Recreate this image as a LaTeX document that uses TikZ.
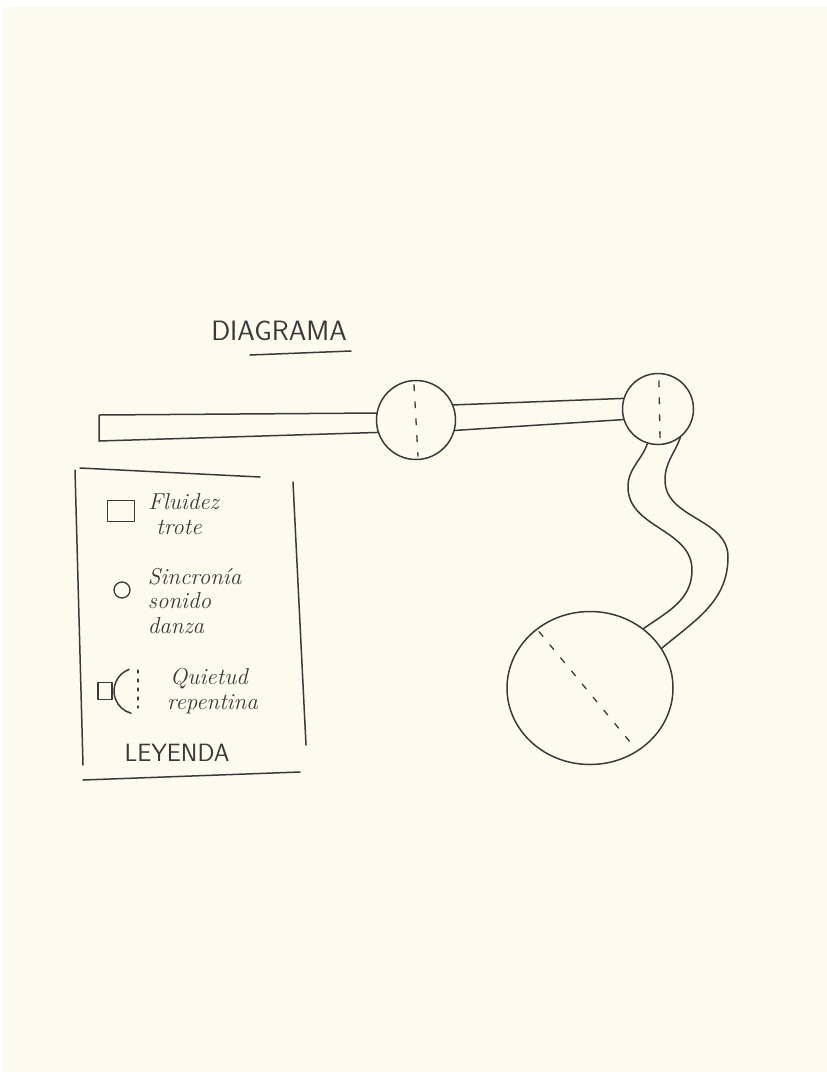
\documentclass[tikz,border=0pt]{standalone}
\usetikzlibrary{positioning, shapes.geometric}
\definecolor{paper}{HTML}{FDFAEE}
\definecolor{ink}{HTML}{3A3A3A}

\begin{document}
\begin{tikzpicture}[
x=1pt, y=1pt,
node distance=12pt and 14pt,
stroke/.style={draw=ink, line width=1.5pt, line cap=round, line join=round},
ball/.style={stroke, circle, inner sep=0pt},
cut/.style={draw=ink, line width=1.3pt, line cap=round, dash pattern=on 6pt off 11pt},
handtext/.style={text=ink, inner sep=0pt, align=left, font=\fontsize{23}{24.5}\selectfont\itshape},
capstext/.style={text=ink, inner sep=0pt, font=\fontsize{28}{30}\selectfont\sffamily}
]

% paper
\fill[white] (0,0) rectangle (827,-1072);
\fill[paper] (3,-7) rectangle (827,-1072);
\useasboundingbox (0,0) rectangle (827,-1072);

% title
\node[capstext] (title) at (279,-331) {DIAGRAMA};
\draw[stroke] (250,-355) -- (351,-351);

% the three moments
\node[ball, minimum size=79pt] (sync1) at (416,-420) {};
\node[ball, minimum size=71pt] (sync2) at (658,-409) {};
\node[stroke, ellipse, minimum width=166pt, minimum height=153pt, inner sep=0pt] (stop) at (590,-688) {};

\draw[cut] ([xshift=-2pt, yshift=-5pt]sync1.north) -- ([xshift=2pt, yshift=4pt]sync1.south);
\draw[cut] ([xshift=1pt, yshift=-8pt]sync2.north) -- ([xshift=2pt, yshift=5pt]sync2.south);
\draw[cut, shorten <=4pt, shorten >=6pt] (stop.132) -- (stop.307);

% bars
\coordinate (tail top) at (99,-415);
\coordinate (tail bot) at (99,-441);
\draw[stroke] (sync1.170) -- (tail top) -- (tail bot) -- (sync1.198);
\draw[stroke] (sync1.22) -- (sync2.163);
\draw[stroke] (sync1.345) -- (sync2.197);

% winding bar down to the big one
\draw[stroke] (sync2.253) to[out=250, in=90] (628,-487)
  to[out=270, in=90] (692,-570) to[out=270, in=35] (stop.48);
\draw[stroke] (sync2.308) to[out=250, in=90] (665,-480)
  to[out=270, in=90] (728,-557) to[out=270, in=40] (stop.29);

% legend frame
\draw[stroke] (80,-468) -- (260,-477);
\draw[stroke] (293,-482) -- (306,-745);
\draw[stroke] (83,-780) -- (300,-772);
\draw[stroke] (75,-470) -- (83,-765);

% legend entries
\node[stroke, rectangle, minimum width=27pt, minimum height=21pt, inner sep=0pt] (trot) at (121,-511) {};
\node[handtext, right=13pt of trot, yshift=-3pt] (trottext) {Fluidez\\\hspace*{8pt}trote};

\node[ball, minimum size=16pt, line width=1.3pt] (sync) at (122,-590) {};
\node[handtext, right=17pt of sync, yshift=-11pt] (synctext) {Sincronía\\sonido\\danza};

\node[stroke, rectangle, minimum width=14pt, minimum height=17pt, inner sep=0pt] (halt) at (105,-691) {};
\coordinate (haltc) at (137,-691);
\draw[stroke] (haltc) ++(110:23pt) arc[start angle=110, end angle=255, radius=23pt];
\draw[cut, dash pattern=on 3pt off 6pt] (138,-670) -- (138,-708);
\node[handtext, right=30pt of haltc] (halttext) {\hspace*{3pt}Quietud\\repentina};

\node[capstext, font=\fontsize{25}{28}\selectfont\sffamily] (legend) at (177,-753) {LEYENDA};

\end{tikzpicture}
\end{document}
